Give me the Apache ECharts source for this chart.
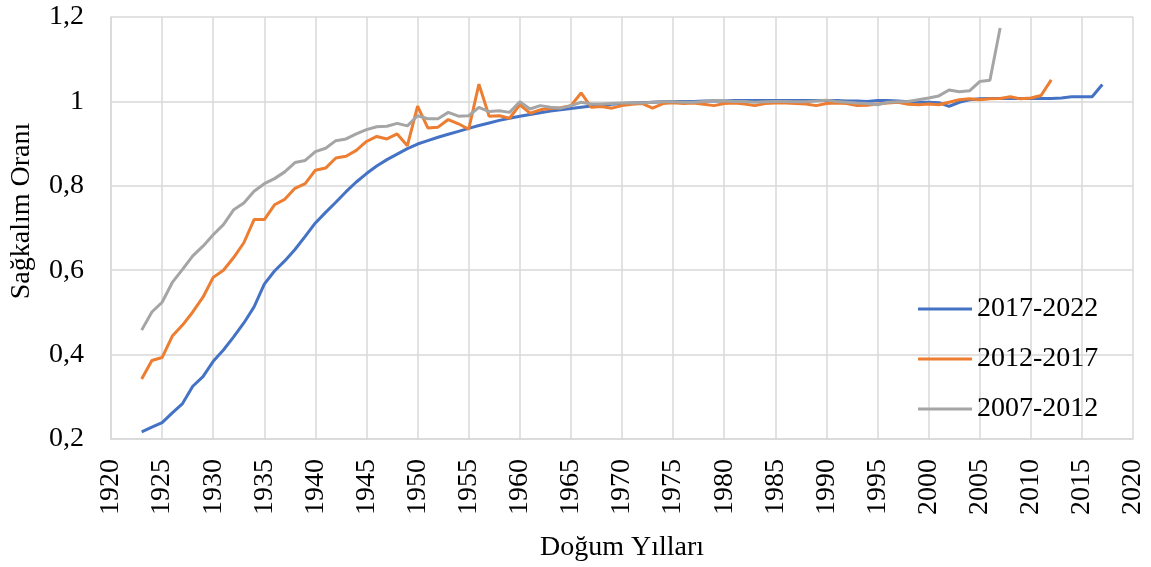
<!DOCTYPE html>
<html>
<head>
<meta charset="utf-8">
<script src="https://cdn.jsdelivr.net/npm/echarts@6/dist/echarts.min.js"></script>
<style>html,body{margin:0;padding:0;background:#fff;}#c{width:1151px;height:567px;}</style>
</head>
<body>
<div id="c"></div>
<script>
const years = [1923,1924,1925,1926,1927,1928,1929,1930,1931,1932,1933,1934,1935,1936,1937,1938,1939,1940,1941,1942,1943,1944,1945,1946,1947,1948,1949,1950,1951,1952,1953,1954,1955,1956,1957,1958,1959,1960,1961,1962,1963,1964,1965,1966,1967,1968,1969,1970,1971,1972,1973,1974,1975,1976,1977,1978,1979,1980,1981,1982,1983,1984,1985,1986,1987,1988,1989,1990,1991,1992,1993,1994,1995,1996,1997,1998,1999,2000,2001,2002,2003,2004,2005,2006,2007,2008,2009,2010,2011,2012,2013,2014,2015,2016,2017];

const seriesNames = ["2017-2022","2012-2017","2007-2012"];

const s2017_2022 = [0.217,0.228,0.239,0.262,0.284,0.325,0.348,0.384,0.411,0.442,0.475,0.513,0.567,0.598,0.622,0.649,0.680,0.712,0.737,0.761,0.786,0.809,0.829,0.847,0.862,0.875,0.888,0.899,0.907,0.915,0.922,0.929,0.936,0.943,0.949,0.955,0.960,0.965,0.969,0.973,0.977,0.980,0.983,0.986,0.989,0.991,0.993,0.995,0.996,0.997,0.998,0.999,1.000,1.000,1.000,1.001,1.001,1.001,1.002,1.002,1.002,1.002,1.002,1.002,1.002,1.002,1.002,1.002,1.002,1.001,1.001,1.000,1.002,1.002,1.001,0.999,0.998,0.998,0.997,0.988,0.998,1.004,1.006,1.007,1.007,1.007,1.007,1.007,1.007,1.007,1.008,1.011,1.011,1.011,1.040];

const s2012_2017 = [0.342,0.386,0.393,0.444,0.470,0.501,0.536,0.583,0.600,0.630,0.665,0.720,0.720,0.755,0.768,0.794,0.805,0.837,0.842,0.866,0.870,0.884,0.905,0.917,0.911,0.923,0.895,0.989,0.937,0.939,0.957,0.947,0.934,1.041,0.965,0.966,0.960,0.992,0.972,0.980,0.983,0.985,0.990,1.020,0.986,0.988,0.984,0.990,0.993,0.995,0.984,0.995,0.997,0.995,0.996,0.993,0.990,0.995,0.996,0.994,0.990,0.995,0.996,0.996,0.995,0.994,0.990,0.995,0.996,0.995,0.990,0.991,0.994,0.996,0.998,0.993,0.992,0.994,0.992,0.998,1.004,1.006,1.004,1.006,1.007,1.011,1.006,1.008,1.014,1.051];

const s2007_2012 = [0.458,0.501,0.524,0.571,0.602,0.634,0.657,0.684,0.708,0.743,0.759,0.787,0.805,0.817,0.833,0.855,0.860,0.881,0.889,0.907,0.911,0.923,0.933,0.940,0.941,0.948,0.942,0.966,0.959,0.959,0.974,0.965,0.966,0.986,0.976,0.978,0.974,0.999,0.982,0.990,0.986,0.984,0.990,0.998,0.994,0.994,0.995,0.996,0.997,0.996,0.998,0.999,0.999,0.998,0.998,1.000,1.002,1.001,1.000,1.000,0.998,0.999,1.000,1.000,0.999,0.999,1.001,1.003,1.000,0.998,0.996,0.995,0.992,0.998,0.999,1.000,1.004,1.008,1.013,1.027,1.023,1.025,1.047,1.050,1.174];

const colors = ["#4472C4","#ED7D31","#A5A5A5"];
const valueSets = [s2017_2022, s2012_2017, s2007_2012];

const FONT = "Liberation Serif";
const chart = echarts.init(document.getElementById('c'), null, {renderer:'canvas'});
chart.setOption({
  animation:false,
  backgroundColor:'#ffffff',
  textStyle:{fontFamily:FONT, color:'#000'},
  grid:{left:107, right:18, top:17, bottom:126},
  legend:{
    orient:'vertical', left:913, top:290, itemGap:22,
    icon:'rect', itemWidth:54, itemHeight:3,
    textStyle:{fontFamily:FONT, fontSize:28, color:'#000'},
    data:seriesNames
  },
  xAxis:{
    type:'value', min:1920, max:2020, interval:5,
    name:'Doğum Yılları', nameLocation:'middle', nameGap:95,
    nameTextStyle:{fontFamily:FONT, fontSize:28, color:'#000'},
    axisLine:{lineStyle:{color:'#d9d9d9', width:1.5}},
    axisTick:{show:false},
    axisLabel:{rotate:90, margin:20, fontFamily:FONT, fontSize:28, color:'#000', formatter:v=>String(v)},
    splitLine:{show:true, lineStyle:{color:'#d9d9d9', width:1.5}}
  },
  yAxis:{
    type:'value', min:0.2, max:1.2, interval:0.2,
    name:'Sağkalım Oranı', nameLocation:'middle', nameGap:75,
    nameTextStyle:{fontFamily:FONT, fontSize:28, color:'#000', padding:[0,0,0,34]},
    axisLine:{show:true, lineStyle:{color:'#d9d9d9', width:1.5}},
    axisTick:{show:false},
    axisLabel:{margin:27, fontFamily:FONT, fontSize:28, color:'#000',
      formatter:v=>{let s=(Math.round(v*10)/10).toFixed(1); if(s.endsWith('.0')) s=s.slice(0,-2); return s.replace('.',',');}},
    splitLine:{show:true, lineStyle:{color:'#d9d9d9', width:1.5}}
  },
  series: seriesNames.map((n,i)=>({
    name:n, type:'line', showSymbol:false, symbol:'none',
    data: valueSets[i].map((v,j)=>[years[j], v]),
    lineStyle:{color:colors[i], width:3},
    itemStyle:{color:colors[i]}
  }))
});
</script>
</body>
</html>
